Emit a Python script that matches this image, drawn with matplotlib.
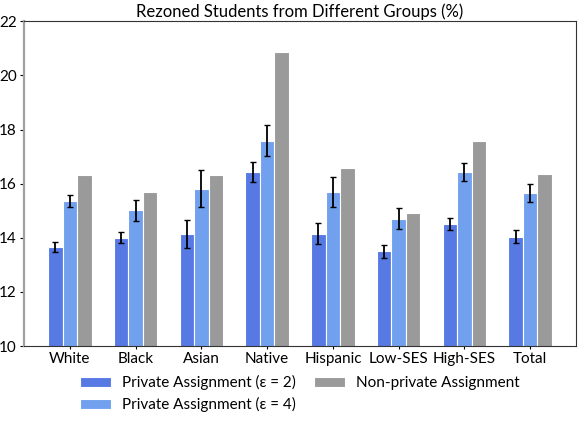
import numpy as np
import matplotlib.pyplot as plt

plt.rcParams['font.family'] = ['Lato', 'DejaVu Sans']

# Data
groups = ['White', 'Black', 'Asian', 'Native', 'Hispanic', 'Low-SES', 'High-SES', 'Total']
private_eps2 = [13.66, 14.01, 14.14, 16.43, 14.15, 13.50, 14.51, 14.04]
private_eps2_err = [0.17, 0.20, 0.50, 0.36, 0.38, 0.25, 0.22, 0.23]
private_eps4 = [15.36, 15.01, 15.81, 17.59, 15.69, 14.70, 16.43, 15.64]
private_eps4_err = [0.22, 0.38, 0.68, 0.57, 0.54, 0.39, 0.32, 0.33]
non_private = [16.31, 15.70, 16.33, 20.85, 16.58, 14.93, 17.57, 16.35]

x = np.arange(len(groups))
w = 0.22

fig = plt.figure(figsize=(5.82, 4.22), dpi=100)
ax = fig.add_axes([0.041, 0.180, 0.949, 0.7695])

err_kw = dict(ecolor='black', elinewidth=1.3, capsize=2, capthick=1)
ax.bar(x - w, private_eps2, w, yerr=private_eps2_err, color='#5679e3',
       edgecolor='white', linewidth=0.8, error_kw=err_kw,
       label='Private Assignment (\u03b5 = 2)')
ax.bar(x, private_eps4, w, yerr=private_eps4_err, color='#71a0ee',
       edgecolor='white', linewidth=0.8, error_kw=err_kw,
       label='Private Assignment (\u03b5 = 4)')
ax.bar(x + w, non_private, w, color='#9a9a9a',
       edgecolor='white', linewidth=0.8, label='Non-private Assignment')

ax.set_xlim(-0.7, 7.7)
ax.set_ylim(10, 22)
ax.set_yticks(np.arange(10, 23, 2))
ax.set_xticks(x)
ax.set_xticklabels(groups)
ax.tick_params(axis='x', length=2, labelsize=11, pad=2)
ax.tick_params(axis='y', length=3, labelsize=11, pad=2)

for s in ['top', 'right', 'bottom']:
    ax.spines[s].set_color('#333333')
ax.spines['left'].set_color('#a0a0a0')
ax.spines['left'].set_linewidth(1.6)

ax.set_title('Rezoned Students from Different Groups (%)', fontsize=12, pad=3)

ax.legend(loc='upper center', bbox_to_anchor=(0.5, -0.047), ncol=2,
          frameon=False, fontsize=11, handlelength=2.0, handleheight=0.65,
          handletextpad=0.75, columnspacing=1.2, labelspacing=0.45)

fig.savefig('out.png', dpi=100)
